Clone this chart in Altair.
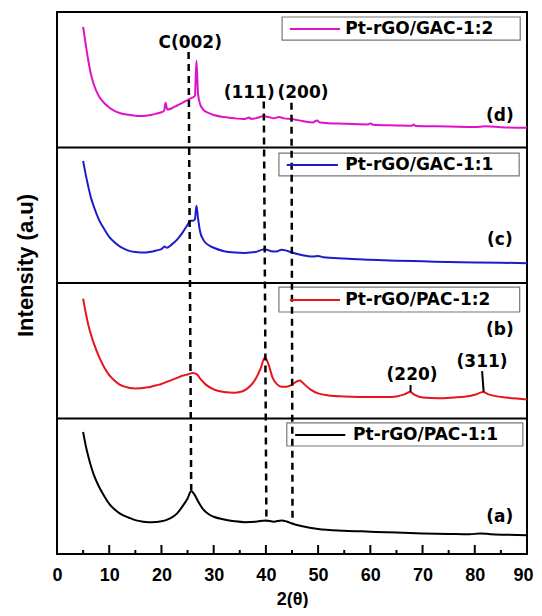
import altair as alt
import pandas as pd

# ---------------- data ----------------
series = ["Pt-rGO/PAC-1:1", "Pt-rGO/PAC-1:2", "Pt-rGO/GAC-1:1", "Pt-rGO/GAC-1:2"]
colors = ["#000000", "#E8141C", "#1C1CC8", "#E012C8"]
offsets = [0, 1, 2, 3]
panel_tags = ["(a)", "(b)", "(c)", "(d)"]

x_a = [5, 5.5, 6, 6.5, 7, 8, 9, 10, 11, 12, 13, 14, 15, 16, 17, 18, 19, 20, 21, 22, 23, 24, 25, 25.7,
       26.3, 27, 28, 29, 30, 32, 34, 36, 38, 40, 41.5, 43, 44, 45, 47, 50, 55, 60, 65, 70, 75, 79, 81,
       83, 86, 90]
y_a = [0.90, 0.80, 0.72, 0.65, 0.59, 0.50, 0.43, 0.37, 0.33, 0.30, 0.28, 0.265, 0.25, 0.242, 0.237,
       0.235, 0.236, 0.242, 0.252, 0.27, 0.30, 0.35, 0.41, 0.465, 0.44, 0.39, 0.33, 0.295, 0.275, 0.255,
       0.242, 0.235, 0.238, 0.248, 0.238, 0.248, 0.24, 0.225, 0.205, 0.185, 0.172, 0.165, 0.158, 0.152,
       0.148, 0.145, 0.152, 0.146, 0.142, 0.138]

x_b = [5, 5.5, 6, 6.5, 7, 8, 9, 10, 11, 12, 13, 14, 15, 16, 17, 18, 19, 20, 21, 22, 23, 24, 25, 26,
       26.8, 27.5, 28.5, 30, 32, 34, 35, 36, 37, 38, 39, 39.8, 40.5, 41.3, 42.2, 43, 44, 45, 46, 46.5,
       47.3, 48.5, 50, 52, 55, 60, 63, 65, 66.5, 67.6, 68.5, 70, 73, 76, 78, 80, 81.6, 82.5, 84, 86,
       88, 90]
y_b = [0.885, 0.78, 0.69, 0.62, 0.56, 0.46, 0.38, 0.32, 0.28, 0.25, 0.235, 0.225, 0.222, 0.223, 0.228,
       0.235, 0.245, 0.255, 0.27, 0.285, 0.30, 0.315, 0.325, 0.335, 0.325, 0.29, 0.25, 0.215, 0.195,
       0.19, 0.195, 0.21, 0.24, 0.29, 0.37, 0.45, 0.40, 0.30, 0.25, 0.235, 0.235, 0.25, 0.275, 0.28,
       0.255, 0.215, 0.185, 0.17, 0.163, 0.158, 0.158, 0.163, 0.178, 0.195, 0.175, 0.155, 0.15, 0.155,
       0.16, 0.175, 0.195, 0.18, 0.165, 0.155, 0.147, 0.14]

x_c = [5, 5.5, 6, 6.5, 7, 8, 9, 10, 11, 12, 13, 14, 15, 16, 17, 18, 19, 20, 20.6, 21, 22, 23, 24, 25,
       25.5, 26, 26.4, 26.7, 27.0, 27.4, 28, 29, 30, 32, 34, 36, 38, 39.7, 41, 42, 43, 44, 45, 47, 49,
       50, 51, 55, 60, 65, 70, 75, 80, 85, 90]
y_c = [0.90, 0.80, 0.71, 0.63, 0.57, 0.47, 0.40, 0.34, 0.30, 0.27, 0.25, 0.235, 0.228, 0.225, 0.225,
       0.23, 0.24, 0.25, 0.27, 0.26, 0.285, 0.32, 0.37, 0.43, 0.46, 0.46, 0.47, 0.57, 0.48, 0.38, 0.32,
       0.28, 0.26, 0.235, 0.225, 0.222, 0.228, 0.25, 0.235, 0.232, 0.245, 0.238, 0.225, 0.205, 0.195,
       0.2, 0.19, 0.18, 0.172, 0.165, 0.16, 0.155, 0.152, 0.15, 0.145]

x_d = [5, 5.5, 6, 6.5, 7, 8, 9, 10, 11, 12, 13, 14, 15, 16, 17, 18, 19, 20, 20.5, 20.8, 21.1, 22, 23,
       24, 25, 26, 26.4, 26.7, 27.0, 27.4, 28, 29, 30, 32, 34, 36, 36.8, 37.2, 38, 39.5, 40.5, 41.5,
       42.5, 43.5, 45, 47, 49, 49.8, 50.3, 55, 59.5, 60, 60.5, 65, 68, 68.3, 68.7, 75, 80, 82, 85, 90]
y_d = [0.89, 0.76, 0.64, 0.54, 0.47, 0.38, 0.33, 0.295, 0.27, 0.255, 0.245, 0.24, 0.235, 0.233, 0.235,
       0.24, 0.25, 0.26, 0.27, 0.33, 0.28, 0.29, 0.31, 0.33, 0.35, 0.37, 0.38, 0.64, 0.40, 0.32, 0.28,
       0.255, 0.24, 0.225, 0.215, 0.21, 0.222, 0.21, 0.215, 0.23, 0.225, 0.215, 0.225, 0.215, 0.21,
       0.195, 0.185, 0.20, 0.185, 0.175, 0.17, 0.178, 0.168, 0.163, 0.16, 0.17, 0.158, 0.155, 0.152,
       0.156, 0.15, 0.145]

curves_x = [x_a, x_b, x_c, x_d]
curves_y = [y_a, y_b, y_c, y_d]

# peak marker dashed lines (top x/y -> bottom x/y, in data units)
peak_names = ["C(002)", "(111)", "(200)"]
peak_x_top = [25.2, 39.6, 44.9]
peak_y_top = [3.705, 3.34, 3.33]
peak_x_bot = [25.7, 40.1, 45.1]
peak_y_bot = [0.47, 0.236, 0.229]
peak_label_x = [25.5, 36.8, 47.1]
peak_label_y = [3.77, 3.40, 3.40]

# extra reflections in (b)
extra_names = ["(220)", "(311)"]
extra_label_x = [68.0, 81.4]
extra_label_y = [1.32, 1.42]
extra_line_x_top = [67.7, 81.4]
extra_line_y_top = [1.247, 1.35]
extra_line_x_bot = [67.7, 81.7]
extra_line_y_bot = [1.196, 1.196]

tag_x = [84.8, 84.8, 84.8, 84.8]
tag_y = [0.27, 1.65, 2.32, 3.23]

# legend boxes
box_x1 = [44.0, 42.5, 42.5, 43.1]
box_x2 = [89.2, 88.6, 88.5, 88.7]
box_y1 = [0.797, 1.786, 2.790, 3.793]
box_y2 = [0.967, 1.970, 2.959, 3.963]
leg_line_x1 = [45.6, 44.6, 44.0, 44.6]
leg_line_x2 = [55.2, 54.2, 53.8, 54.2]
leg_y = [0.878, 1.875, 2.871, 3.875]
leg_text_x = [56.7, 55.2, 55.2, 55.2]

xtick_labels = [0, 10, 20, 30, 40, 50, 60, 70, 80, 90]
major_ticks = [10, 20, 30, 40, 50, 60, 70, 80]
minor_ticks = [5, 15, 25, 35, 45, 55, 65, 75, 85]
dividers = [1, 2, 3]

# ---------------- build tables ----------------
rows = []
for s, off, xs, ys in zip(series, offsets, curves_x, curves_y):
    for xv, yv in zip(xs, ys):
        rows.append({"x": xv, "y": yv + off, "series": s})
df = pd.DataFrame(rows)

W, H = 470, 542
bold = "Liberation Sans"
dj = "DejaVu Sans"

xscale = alt.Scale(domain=[0, 90], nice=False, zero=False)
yscale = alt.Scale(domain=[0, 4], nice=False, zero=False)
xaxis = alt.Axis(values=xtick_labels, ticks=False, domain=False, grid=False, labelFlush=False,
                 labelFont=bold, labelFontWeight="bold", labelFontSize=18, labelColor="black",
                 labelPadding=12,
                 labelOffset={"condition": {"test": "datum.value == 90", "value": -4}, "value": 0},
                 title="2(θ)", titleFont=bold, titleFontWeight="bold",
                 titleFontSize=18, titleColor="black", titleY=45, titleBaseline="middle")
yaxis = alt.Axis(labels=False, ticks=False, domain=False, grid=False, title="Intensity (a.u)",
                 titleFont=bold, titleFontWeight="bold", titleFontSize=22, titleColor="black",
                 titleX=-32, titleY=253, titleBaseline="middle")

X = alt.X("x:Q", scale=xscale, axis=xaxis, title="2(θ)")
Y = alt.Y("y:Q", scale=yscale, axis=yaxis, title="Intensity (a.u)")
C = alt.Color("series:N", scale=alt.Scale(domain=series, range=colors), legend=None)

lines = alt.Chart(df).mark_line(strokeWidth=2, interpolate="monotone").encode(x=X, y=Y, color=C)

div_df = pd.DataFrame({"y": dividers})
div = alt.Chart(div_df).mark_rule(color="black", strokeWidth=2).encode(
    y=Y, x=alt.value(0), x2=alt.value(W))

peaks_df = pd.DataFrame({"x": peak_x_top, "y": peak_y_top, "x2": peak_x_bot, "y2": peak_y_bot})
peaks = alt.Chart(peaks_df).mark_rule(color="black", strokeWidth=2.5, strokeDash=[7, 5]).encode(
    x=X, y=Y, x2="x2:Q", y2="y2:Q")

plab_df = pd.DataFrame({"x": peak_label_x + extra_label_x, "y": peak_label_y + extra_label_y,
                        "label": peak_names + extra_names})
plab = alt.Chart(plab_df).mark_text(font=dj, fontWeight="bold", fontSize=17, color="black",
                                    baseline="middle").encode(x=X, y=Y, text="label:N")

ex_df = pd.DataFrame({"x": extra_line_x_top, "y": extra_line_y_top, "x2": extra_line_x_bot,
                      "y2": extra_line_y_bot})
ex = alt.Chart(ex_df).mark_rule(color="black", strokeWidth=2).encode(x=X, y=Y, x2="x2:Q", y2="y2:Q")

tag_df = pd.DataFrame({"x": tag_x, "y": tag_y, "label": panel_tags})
tags = alt.Chart(tag_df).mark_text(font=dj, fontWeight="bold", fontSize=17, color="black",
                                   baseline="middle").encode(x=X, y=Y, text="label:N")

box_df = pd.DataFrame({"x": box_x1, "x2": box_x2, "y": box_y1, "y2": box_y2})
boxes = alt.Chart(box_df).mark_rect(fill="white", stroke="#777777", strokeWidth=1.2).encode(
    x=X, x2="x2:Q", y=Y, y2="y2:Q")

lg_df = pd.DataFrame({"x": leg_line_x1, "x2": leg_line_x2, "y": leg_y, "series": series})
lg_lines = alt.Chart(lg_df).mark_rule(strokeWidth=2).encode(x=X, x2="x2:Q", y=Y, color=C)

lt_df = pd.DataFrame({"x": leg_text_x, "y": leg_y, "label": series})
lg_text = alt.Chart(lt_df).mark_text(font=dj, fontWeight="bold", fontSize=17, color="black",
                                     align="left", baseline="middle").encode(x=X, y=Y, text="label:N")

maj_df = pd.DataFrame({"x": major_ticks})
maj = alt.Chart(maj_df).mark_rule(color="black", strokeWidth=2).encode(
    x=X, y=alt.value(H), y2=alt.value(H - 9))
min_df = pd.DataFrame({"x": minor_ticks})
mnr = alt.Chart(min_df).mark_rule(color="black", strokeWidth=2).encode(
    x=X, y=alt.value(H), y2=alt.value(H - 4))

chart = alt.layer(lines, div, boxes, peaks, ex, plab, tags, lg_lines, lg_text, maj, mnr).properties(
    width=W, height=H,
    autosize=alt.AutoSizeParams(type="none"),
    padding={"left": 49, "top": 4, "right": 7, "bottom": 54},
    background="white",
).configure_view(stroke="black", strokeWidth=2)

chart.save("out.html", embed_options={"renderer": "svg", "actions": False})
